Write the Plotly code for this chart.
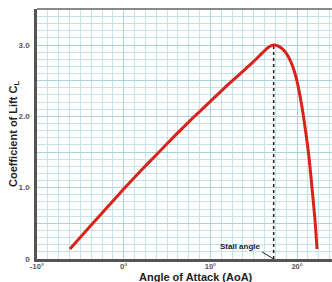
import plotly.graph_objects as go

aoa = [-6.2, -4, -2, 0, 2, 4, 6, 8, 10, 12, 14, 15, 16, 16.7, 17.3, 17.9, 18.6, 19.3, 19.9, 20.5, 21.0, 21.4, 21.8, 22.1, 22.3]
cl = [0.14, 0.44, 0.71, 0.98, 1.24, 1.49, 1.74, 1.98, 2.21, 2.44, 2.66, 2.77, 2.89, 2.97, 3.00, 2.98, 2.91, 2.76, 2.54, 2.18, 1.78, 1.40, 0.90, 0.50, 0.14]
stall_aoa = 17.3
stall_cl = 3.0
x_tickvals = [-10, 0, 10, 20]
x_ticktext = ["<b>-10°</b>", "<b>0°</b>", "<b>10°</b>", "<b>20°</b>"]
y_tickvals = [0, 0.5, 1, 1.5, 2, 2.5, 3]
y_ticktext = ["<b>0</b>", "", "<b>1.0</b>", "", "<b>2.0</b>", "", "<b>3.0</b>"]

FONT = "Liberation Sans, Arial, sans-serif"

fig = go.Figure()
fig.add_trace(go.Scatter(x=[stall_aoa, stall_aoa], y=[0, stall_cl], mode="lines",
                         line=dict(color="#222222", width=1.5, dash="dot"), hoverinfo="skip"))
fig.add_trace(go.Scatter(x=aoa, y=cl, mode="lines", line=dict(color="#d8231b", width=3, shape="spline", smoothing=0.6)))

fig.update_layout(
    width=332, height=282,
    margin=dict(l=37, r=0, t=9, b=23),
    paper_bgcolor="white", plot_bgcolor="white",
    showlegend=False,
    font=dict(family=FONT),
    xaxis=dict(range=[-10, 24.03], tickvals=x_tickvals, ticktext=x_ticktext,
               showgrid=True, gridcolor="#a6d4da", gridwidth=1.3,
               minor=dict(dtick=1.25, tick0=-10, showgrid=True, gridcolor="#c3e3e7", gridwidth=1),
               showline=True, linecolor="#555555", linewidth=2.5, zeroline=False,
               ticklabelstandoff=-2,
               tickfont=dict(size=7.5, color="#555555", family=FONT), ticks="", fixedrange=True),
    yaxis=dict(range=[0, 3.505], tickvals=y_tickvals, ticktext=y_ticktext,
               showgrid=True, gridcolor="#a6d4da", gridwidth=1.3,
               minor=dict(dtick=0.1, tick0=0, showgrid=True, gridcolor="#c3e3e7", gridwidth=1),
               showline=True, linecolor="#555555", linewidth=2.5, zeroline=False,
               ticklabelstandoff=3,
               tickfont=dict(size=8, color="#555555", family=FONT), ticks="", fixedrange=True),
    shapes=[
        dict(type="line", xref="paper", yref="paper", x0=0, x1=1, y0=1, y1=1,
             line=dict(color="#8a8a8a", width=2)),
        dict(type="line", xref="x", yref="y", x0=15.95, y0=0.1, x1=stall_aoa, y1=0,
             line=dict(color="#222222", width=1)),
    ],
    annotations=[
        dict(text="<b>Coefficient of Lift C<sub>L</sub></b>", xref="paper", yref="paper",
             x=-0.078, y=0.5, xanchor="center", yanchor="middle", textangle=-90,
             showarrow=False, font=dict(size=11, color="#222222", family=FONT)),
        dict(text="<b>Angle of Attack (AoA)</b>", xref="paper", yref="paper",
             x=0.539, y=-0.071, xanchor="center", yanchor="middle",
             showarrow=False, font=dict(size=11, color="#222222", family=FONT)),
        dict(text="<b>Stall angle</b>", xref="x", yref="y", x=13.5, y=0.18,
             xanchor="center", yanchor="middle", showarrow=False,
             font=dict(size=8, color="#222222", family=FONT)),
    ],
)

fig.write_html("out.html", config={"displayModeBar": False},
               post_script="document.body.style.margin='0';document.body.style.padding='0';")
